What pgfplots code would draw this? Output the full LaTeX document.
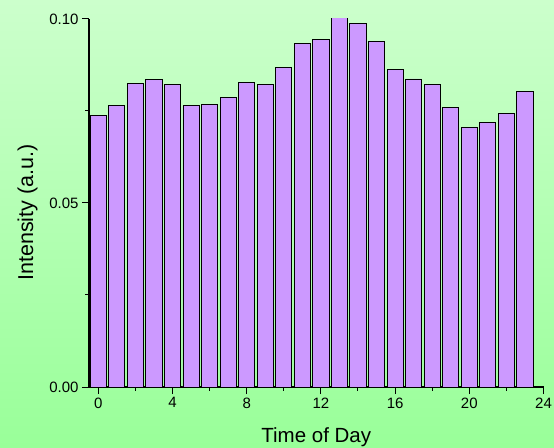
\documentclass[border=0pt]{standalone}
\usepackage{pgfplots}
\pgfplotsset{compat=1.18}
\usepackage{fontspec}
\setmainfont{Liberation Sans}
\definecolor{bgtop}{HTML}{CCFFCC}
\definecolor{bgbot}{HTML}{99FF99}
\definecolor{barfill}{HTML}{CC99FF}
\begin{document}
\begin{tikzpicture}[x=1pt,y=1pt]
\useasboundingbox (0,0) rectangle (554,447);
\shade[top color=bgtop, bottom color=bgbot] (0,0) rectangle (554,447);
\begin{axis}[
  at={(89pt,60pt)}, anchor=south west,
  scale only axis, width=454.5pt, height=368pt,
  xmin=-0.5, xmax=24, ymin=0, ymax=0.1,
  axis x line*=bottom, axis y line*=left,
  xtick={0,4,...,24}, minor xtick={2,6,...,22},
  ytick={0,0.05,0.1}, minor ytick={0.025,0.075},
  tick align=outside, major tick length=7pt, minor tick length=3.5pt,
  yticklabel style={/pgf/number format/.cd, fixed, fixed zerofill, precision=2},
  /pgf/number format/assume math mode=true,
  tick label style={font=\fontsize{15}{17}\selectfont, black},
  xlabel={Time of Day}, ylabel={Intensity (a.u.)},
  label style={font=\fontsize{20.5}{24}\selectfont},
  xlabel style={at={(axis description cs:0.5,0)}, anchor=base, yshift=-55.7pt},
  ylabel style={at={(axis description cs:-0.1232,0.474)}, anchor=base, rotate=0, font=\fontsize{21.5}{24}\selectfont},
  axis line style={line width=1.2pt, black},
  tick style={line width=1pt, black},
  ybar, bar width=0.87,
]
\addplot[fill=barfill, draw=black, line width=0.9pt] coordinates {
(0,0.0737) (1,0.0766) (2,0.0826) (3,0.0835) (4,0.0822) (5,0.0764)
(6,0.0769) (7,0.0786) (8,0.0828) (9,0.0822) (10,0.0868) (11,0.0934)
(12,0.0944) (13,0.1005) (14,0.0987) (15,0.0938) (16,0.0862) (17,0.0837)
(18,0.0823) (19,0.0759) (20,0.0705) (21,0.0718) (22,0.0744) (23,0.0804)
};
\end{axis}
\end{tikzpicture}
\end{document}
